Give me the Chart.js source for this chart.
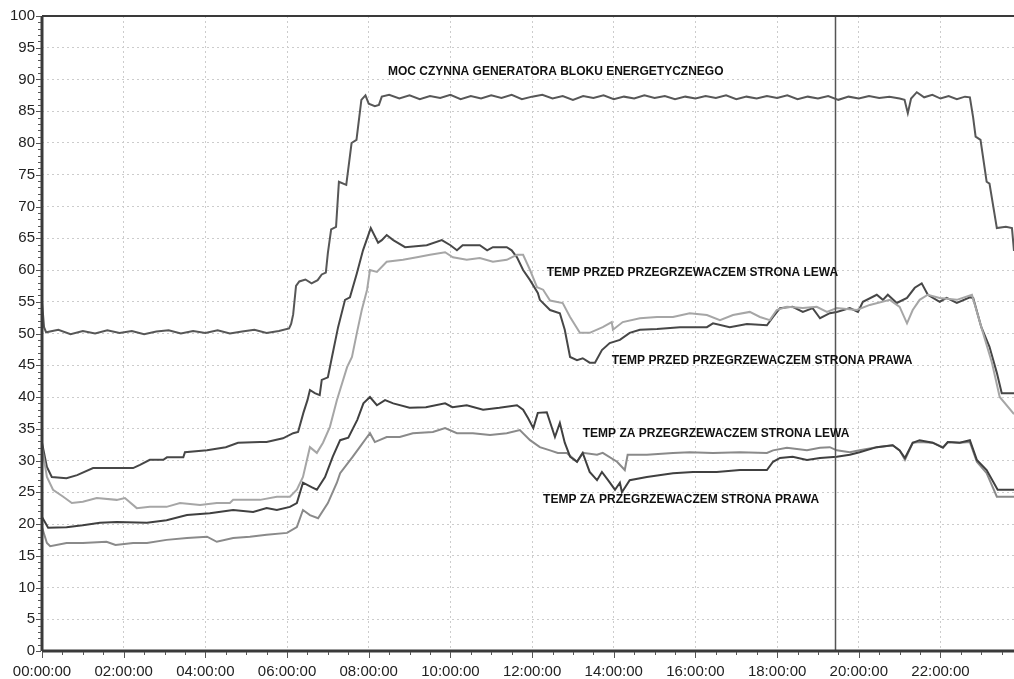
<!DOCTYPE html>
<html>
<head>
<meta charset="utf-8">
<script src="https://cdn.jsdelivr.net/npm/chart.js@4"></script>
<style>
html,body{margin:0;padding:0;background:#fff;}
canvas{display:block;}
</style>
</head>
<body>
<canvas id="c" width="1014" height="679"></canvas>
<script>
// ---- data (hours of day, values) ----
const powerT = [0,0.05,0.1,0.4,0.7,1.0,1.3,1.6,1.9,2.2,2.5,2.8,3.1,3.4,3.7,4.0,4.3,4.6,4.9,5.2,5.5,5.8,6.05,6.1,6.15,6.22,6.3,6.45,6.6,6.75,6.85,6.95,7.0,7.08,7.2,7.27,7.45,7.58,7.7,7.82,7.92,8.0,8.15,8.25,8.32,8.5,8.75,9.0,9.25,9.5,9.75,10.0,10.25,10.5,10.75,11.0,11.25,11.5,11.75,12.0,12.25,12.5,12.75,13.0,13.25,13.5,13.75,14.0,14.25,14.5,14.75,15.0,15.25,15.5,15.75,16.0,16.25,16.5,16.75,17.0,17.25,17.5,17.75,18.0,18.25,18.5,18.75,19.0,19.25,19.5,19.75,20.0,20.25,20.5,20.75,21.0,21.12,21.2,21.28,21.42,21.6,21.8,22.0,22.2,22.4,22.6,22.72,22.8,22.86,22.98,23.13,23.2,23.38,23.6,23.75,23.8];
const powerV = [55,51,50.2,50.6,49.9,50.4,50.0,50.5,50.1,50.4,49.9,50.3,50.5,50.0,50.4,50.1,50.5,50.0,50.3,50.6,50.1,50.4,50.8,51.5,53,57.5,58.2,58.5,57.9,58.4,59.3,59.6,62.7,66.4,66.8,73.9,73.4,80.0,80.5,86.8,87.5,86.2,85.8,86.0,87.3,87.6,87.0,87.5,86.9,87.4,87.1,87.6,86.9,87.4,87.0,87.5,87.1,87.6,86.9,87.3,87.6,87.0,87.4,86.8,87.4,87.1,87.5,86.9,87.3,87.0,87.5,87.1,87.4,86.9,87.3,87.0,87.4,87.1,87.5,86.9,87.3,87.0,87.4,87.1,87.5,86.9,87.3,87.0,87.4,86.8,87.3,87.0,87.4,87.1,87.3,87.0,86.8,84.7,87.0,88.0,87.2,87.6,87.0,87.4,86.9,87.3,87.2,84,81,80.5,73.9,73.6,66.6,66.8,66.6,63];

const przedPrawaT = [0,0.12,0.24,0.6,0.86,1.25,1.5,2.23,2.4,2.64,2.97,3.06,3.46,3.5,4.04,4.5,4.8,5.34,5.5,5.9,6.15,6.27,6.4,6.5,6.56,6.68,6.8,6.85,7.0,7.1,7.25,7.42,7.54,7.71,7.86,8.05,8.23,8.32,8.44,8.6,8.89,9.42,9.79,10.0,10.16,10.3,10.72,10.9,11.04,11.38,11.5,11.63,11.78,11.95,12.14,12.19,12.44,12.68,12.8,12.93,13.1,13.24,13.41,13.54,13.71,13.9,14.15,14.39,14.64,15.06,15.62,16.28,16.43,16.84,17.26,17.75,17.9,18.07,18.38,18.63,18.87,19.05,19.29,19.46,19.78,19.98,20.1,20.44,20.59,20.71,20.93,21.18,21.37,21.54,21.69,21.98,22.15,22.4,22.72,22.8,23.0,23.2,23.38,23.5,23.8];
const przedPrawaV = [32.8,29,27.4,27.2,27.7,28.8,28.8,28.8,29.3,30.1,30.1,30.5,30.5,31.3,31.6,32.1,32.8,32.9,32.9,33.5,34.3,34.5,37.5,39.5,41.1,40.6,40.3,42.7,43.1,46.3,51,55.3,55.7,59.5,63.1,66.6,64.3,64.7,65.5,64.7,63.6,63.9,64.7,63.9,63.1,63.9,63.9,63.1,63.6,63.6,63.1,62,60,58.4,56.4,55.3,53.7,53.2,50.6,46.3,45.8,46.1,45.4,45.4,47.4,48.5,49,50.1,50.6,50.7,51,51,51.6,51,51.5,51.3,52.6,54,54.2,53.4,54,52.4,53.2,53.4,54,53.4,55,56.1,55.3,56.1,54.8,55.6,57.2,57.9,56.1,55,55.6,54.8,55.7,55.6,51,47.9,43.8,40.6,40.6];

const przedLewaT = [0,0.12,0.27,0.52,0.73,1.0,1.34,1.83,2.03,2.32,2.64,3.05,3.38,3.87,4.28,4.6,4.68,5.34,5.75,6.07,6.24,6.39,6.56,6.73,6.88,7.05,7.22,7.47,7.59,7.71,7.83,7.96,8.03,8.2,8.44,8.84,9.18,9.5,9.87,10.06,10.4,10.72,11.04,11.38,11.63,11.78,11.95,12.12,12.27,12.44,12.75,12.93,13.17,13.41,13.73,13.95,13.98,14.22,14.64,15.06,15.45,15.86,16.28,16.6,16.92,17.33,17.58,17.82,17.99,18.24,18.63,18.97,19.22,19.46,19.95,20.27,20.76,21.0,21.18,21.32,21.49,21.69,21.98,22.4,22.77,23.0,23.26,23.45,23.8];
const przedLewaV = [32.1,27.4,25.4,24.3,23.3,23.5,24.1,23.8,24.1,22.5,22.7,22.7,23.3,23,23.3,23.3,23.8,23.8,24.3,24.3,25.4,27.4,32.1,31.2,32.8,35.3,39.5,44.7,46.3,50.1,53.7,56.9,60,59.7,61.3,61.6,62,62.4,62.8,62,61.6,61.9,61.3,61.6,62.4,62.4,60,57.3,56.9,55.2,54.8,52.6,50.1,50.1,51,51.8,50.6,51.8,52.4,52.6,52.6,53.2,52.9,52.1,52.9,53.4,52.6,52.1,53.7,54.2,54,54.2,53.4,54,53.7,54.5,55.3,54.2,51.6,53.7,55.3,56.1,55.6,55.3,56.1,51,45.4,40,37.3];

const zaLewaT = [0,0.15,0.6,1.0,1.42,1.83,2.57,3.05,3.55,4.11,4.68,5.17,5.5,5.75,6.07,6.24,6.39,6.6,6.73,6.93,7.12,7.3,7.5,7.72,7.87,8.03,8.2,8.4,8.6,9.0,9.4,9.87,10.05,10.4,10.8,11.2,11.63,11.78,11.9,12.03,12.14,12.36,12.56,12.68,12.8,12.93,13.1,13.24,13.41,13.59,13.71,13.86,14.03,14.15,14.2,14.39,14.81,15.45,15.94,16.52,17.09,17.75,17.9,18.07,18.38,18.73,19.05,19.46,19.78,20.02,20.44,20.83,21.0,21.13,21.32,21.49,21.81,22.06,22.18,22.47,22.72,22.89,23.13,23.4,23.8];
const zaLewaV = [21.1,19.4,19.5,19.8,20.2,20.3,20.2,20.6,21.4,21.7,22.2,21.9,22.5,22.2,22.7,23.3,26.5,25.8,25.4,27.4,30.6,33.2,33.6,36.4,39,40,38.7,39.5,39,38.3,38.4,39,38.4,38.7,38,38.3,38.7,38,36.7,35.1,37.5,37.6,33.7,35.9,32.8,30.6,29.8,31.2,28.2,26.9,28.2,26.9,25.4,26.5,25,26.9,27.4,28,28.2,28.2,28.5,28.5,29.8,30.4,30.6,30.1,30.4,30.6,30.9,31.3,32.1,32.4,31.6,30.4,32.8,33.2,32.8,32,32.9,32.8,33.2,30.1,28.5,25.4,25.4];

const zaPrawaT = [0,0.12,0.2,0.6,1.0,1.58,1.8,2.23,2.57,3.05,3.55,4.04,4.28,4.68,5.09,5.5,6.0,6.24,6.39,6.56,6.76,7.0,7.22,7.3,7.61,7.78,7.96,8.03,8.15,8.44,8.76,9.08,9.57,9.87,10.16,10.55,10.97,11.38,11.7,11.95,12.19,12.44,12.63,12.85,13.1,13.24,13.59,13.73,14.08,14.27,14.34,14.81,15.45,15.86,16.43,17.09,17.75,17.9,18.24,18.73,19.05,19.29,19.46,19.78,20.02,20.44,20.83,21.0,21.13,21.32,21.49,21.81,22.06,22.18,22.47,22.72,22.89,23.13,23.38,23.8];
const zaPrawaV = [19.5,17,16.5,17,17,17.2,16.7,17,17,17.5,17.8,18,17.2,17.8,18,18.3,18.6,19.5,22.2,21.4,20.9,23.3,26.5,28,30.6,32.1,33.7,34.3,32.9,33.7,33.7,34.3,34.5,35.1,34.3,34.3,34,34.3,34.8,33.2,32.1,31.6,31.2,31.2,29.8,31.2,30.9,31.2,29.8,28.5,30.9,30.9,31.2,31.3,31.2,31.3,31.2,31.6,32,31.6,32,32.1,31.6,31.3,31.6,32.1,32.4,31.6,30.1,32.8,32.9,32.8,32.1,32.9,32.8,32.9,29.8,28,24.3,24.3];

const cursorHour = 19.41;
const xTickStep = 2;
const yTickStep = 5;

const labelTexts = [
  'MOC CZYNNA GENERATORA BLOKU ENERGETYCZNEGO',
  'TEMP PRZED PRZEGRZEWACZEM STRONA LEWA',
  'TEMP PRZED PRZEGRZEWACZEM STRONA PRAWA',
  'TEMP ZA PRZEGRZEWACZEM STRONA LEWA',
  'TEMP ZA PRZEGRZEWACZEM STRONA PRAWA'
];
const labelX = [8.47, 12.36, 13.95, 13.24, 12.27];
const labelY = [91.2, 59.5, 45.7, 34.3, 23.8];

function pts(t, v){ return t.map((x,i)=>({x:x, y:v[i]})); }

const FONT = '"Liberation Sans", Arial, Helvetica, sans-serif';

const extras = {
  id: 'extras',
  afterDatasetsDraw(chart){
    const {ctx, chartArea:a, scales:{x, y}} = chart;
    ctx.save();
    // cursor line
    const cx = Math.round(x.getPixelForValue(cursorHour)) + 0.5;
    ctx.strokeStyle = '#555';
    ctx.lineWidth = 1.5;
    ctx.beginPath(); ctx.moveTo(cx, a.top); ctx.lineTo(cx, a.bottom); ctx.stroke();
    // series labels
    ctx.fillStyle = '#111';
    ctx.font = 'bold 12px ' + FONT;
    ctx.textAlign = 'left';
    ctx.textBaseline = 'middle';
    labelTexts.forEach((s,i)=>{
      ctx.fillText(s, x.getPixelForValue(labelX[i]), y.getPixelForValue(labelY[i]));
    });
    // frame
    ctx.strokeStyle = '#3a3a3a';
    ctx.lineWidth = 3;
    ctx.beginPath();
    ctx.moveTo(a.left, a.bottom); ctx.lineTo(a.left, a.top);
    ctx.moveTo(a.left, a.bottom); ctx.lineTo(a.right, a.bottom);
    ctx.stroke();
    ctx.lineWidth = 2;
    ctx.beginPath(); ctx.moveTo(a.left, a.top); ctx.lineTo(a.right, a.top); ctx.stroke();
    // minor ticks
    ctx.lineWidth = 1;
    ctx.strokeStyle = '#555';
    ctx.beginPath();
    for (let v = 0; v <= 100; v += 1) {
      const py = Math.round(y.getPixelForValue(v)) + 0.5;
      const len = (v % yTickStep === 0) ? 5 : 3;
      ctx.moveTo(a.left - 1 - len, py); ctx.lineTo(a.left - 1, py);
    }
    for (let h = 0; h <= x.max; h += 0.5) {
      const px = Math.round(x.getPixelForValue(h)) + 0.5;
      const len = (h % xTickStep === 0) ? 6 : 3;
      ctx.moveTo(px, a.bottom + 1); ctx.lineTo(px, a.bottom + 1 + len);
    }
    ctx.stroke();
    ctx.restore();
  }
};

const common = {borderWidth: 2, pointRadius: 0, tension: 0, fill: false};

new Chart(document.getElementById('c'), {
  type: 'line',
  data: {
    datasets: [
      Object.assign({label: labelTexts[0], data: pts(powerT, powerV), borderColor: '#575757'}, common),
      Object.assign({label: labelTexts[1], data: pts(przedLewaT, przedLewaV), borderColor: '#a6a6a6'}, common),
      Object.assign({label: labelTexts[2], data: pts(przedPrawaT, przedPrawaV), borderColor: '#474747'}, common),
      Object.assign({label: labelTexts[3], data: pts(zaLewaT, zaLewaV), borderColor: '#404040'}, common),
      Object.assign({label: labelTexts[4], data: pts(zaPrawaT, zaPrawaV), borderColor: '#8a8a8a'}, common)
    ]
  },
  options: {
    responsive: false,
    animation: false,
    events: [],
    layout: {padding: {top: 15, right: 0, left: 0, bottom: 0}},
    plugins: {legend: {display: false}, tooltip: {enabled: false}},
    scales: {
      x: {
        type: 'linear', min: 0, max: 23.8,
        afterBuildTicks(s){ s.ticks = s.ticks.filter(t => Math.abs(t.value % xTickStep) < 1e-6); },
        afterFit(s){ s.height = 28; },
        ticks: {
          stepSize: xTickStep, autoSkip: false, maxRotation: 0, padding: 12,
          color: '#222', font: {family: FONT, size: 15},
          callback: v => String(v).padStart(2,'0') + ':00:00'
        },
        grid: {color: '#cccccc', lineWidth: 1, drawTicks: false},
        border: {display: false, dash: [2,3]}
      },
      y: {
        min: 0, max: 100,
        afterFit(s){ s.width = 42; },
        ticks: {stepSize: yTickStep, padding: 7, color: '#222', font: {family: FONT, size: 15}},
        grid: {color: '#cccccc', lineWidth: 1, drawTicks: false},
        border: {display: false, dash: [2,3]}
      }
    }
  },
  plugins: [extras]
});
</script>
</body>
</html>
